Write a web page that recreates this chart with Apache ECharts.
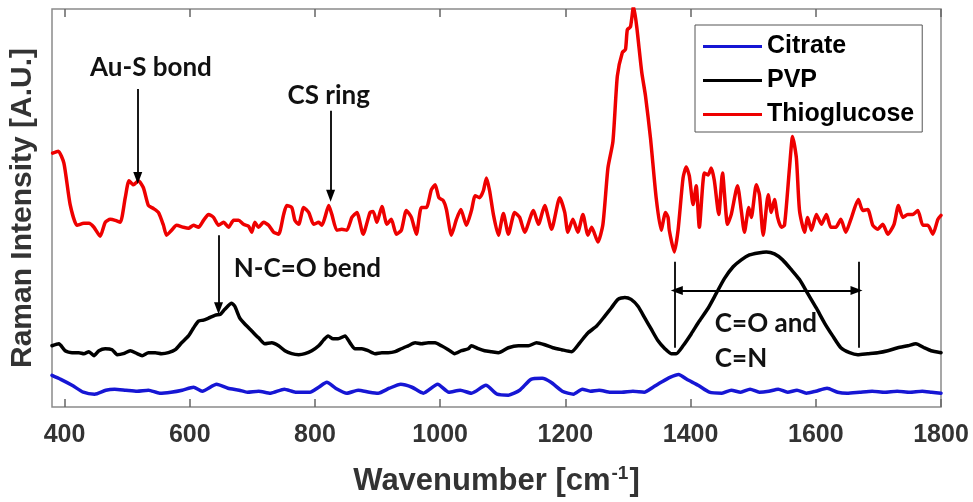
<!DOCTYPE html>
<html>
<head>
<meta charset="utf-8">
<script src="https://cdn.jsdelivr.net/npm/echarts@6/dist/echarts.min.js"></script>
<style>
  html, body { margin: 0; padding: 0; background: #fff; }
  #chart { width: 973px; height: 502px; }
</style>
</head>
<body>
<div id="chart"></div>
<script>
// Raman spectra of gold nanoparticles with three surface coatings (offset traces, arbitrary units)
const wavenumberTicks = [400, 600, 800, 1000, 1200, 1400, 1600, 1800];

// [wavenumber cm^-1, intensity A.U.]
const citrate = [
  [380,32],[394,28],[412,22],[430,15],[448,13],[466,17],[480,18],[498,17],[516,16],[534,17],
  [552,14],[570,15],[588,17],[606,20],[620,16],[643,23],[661,19],[679,17],[692,15],[710,16],
  [729,14],[751,18],[769,15],[792,15],[806,20],[819,25],[833,19],[851,14],[869,17],[887,15],
  [901,14],[919,19],[937,23],[955,20],[973,14],[996,23],[1014,15],[1032,17],[1050,14],[1073,22],
  [1091,13],[1109,12],[1127,17],[1145,28],[1163,29],[1177,25],[1195,16],[1213,13],[1227,18],[1240,16],
  [1254,17],[1272,15],[1290,15],[1308,16],[1326,15],[1340,20],[1353,25],[1367,30],[1381,33],[1394,28],
  [1412,22],[1430,15],[1450,14],[1465,17],[1480,15],[1495,18],[1510,15],[1525,16],[1540,18],[1555,15],
  [1570,17],[1585,14],[1600,16],[1618,19],[1635,15],[1650,14],[1670,15],[1690,16],[1710,15],[1730,16],
  [1750,15],[1770,16],[1785,15],[1800,14]
];

const pvp = [
  [380,62],[391,64],[401,57],[412,55],[423,55],[431,54],[439,56],[447,52],[455,57],[465,59],
  [476,58],[484,53],[494,54],[505,57],[516,54],[524,52],[534,55],[545,55],[555,54],[566,55],
  [577,58],[587,65],[598,72],[606,80],[614,87],[622,88],[630,90],[641,93],[649,94],[656,99],
  [667,105],[672,102],[680,90],[688,84],[699,77],[710,70],[720,64],[731,65],[742,62],[752,57],
  [763,54],[774,53],[784,54],[795,57],[806,62],[814,68],[821,72],[829,69],[837,69],[848,72],
  [856,65],[864,59],[875,59],[885,57],[896,54],[907,55],[917,55],[928,56],[938,59],[949,62],
  [960,65],[970,64],[981,65],[992,65],[1002,62],[1013,58],[1023,54],[1034,57],[1045,59],[1050,62],
  [1061,59],[1071,57],[1082,56],[1093,55],[1109,60],[1125,62],[1141,62],[1154,65],[1167,63],[1180,60],
  [1194,58],[1210,56],[1223,65],[1236,75],[1250,82],[1263,92],[1273,100],[1284,109],[1295,111],[1305,109],
  [1316,102],[1327,90],[1337,79],[1348,67],[1359,59],[1369,54],[1377,54],[1388,62],[1401,74],[1414,87],
  [1428,100],[1441,115],[1454,130],[1468,142],[1481,149],[1494,154],[1508,156],[1521,157],[1534,155],[1547,149],
  [1561,139],[1574,129],[1587,115],[1601,100],[1614,85],[1627,72],[1640,60],[1654,55],[1667,53],[1683,54],
  [1699,55],[1715,57],[1731,60],[1747,62],[1760,64],[1773,60],[1784,57],[1800,55]
];

const thioglucose = [
  [381,257],[390,259],[399,247],[409,205],[420,184],[431,186],[439,186],[447,182],[457,173],[465,187],
  [473,190],[481,189],[489,187],[497,212],[503,229],[510,225],[518,229],[526,222],[534,204],[542,201],
  [550,197],[558,184],[563,174],[571,179],[579,184],[590,182],[598,181],[606,184],[614,182],[622,189],
  [630,195],[638,192],[646,184],[654,187],[662,182],[670,189],[678,189],[686,185],[694,183],[699,177],
  [704,187],[710,182],[718,187],[726,184],[734,177],[742,175],[750,195],[755,204],[763,202],[768,189],
  [774,185],[782,202],[790,197],[798,185],[806,187],[811,184],[816,192],[822,204],[827,195],[835,179],
  [843,180],[851,179],[859,192],[867,197],[877,175],[888,197],[893,198],[899,187],[907,203],[915,185],
  [922,190],[930,175],[938,179],[946,199],[954,192],[962,175],[970,202],[978,202],[986,220],[992,225],
  [998,212],[1005,209],[1010,200],[1018,174],[1026,190],[1033,200],[1042,184],[1050,199],[1056,214],[1063,212],
  [1069,219],[1074,232],[1079,219],[1085,195],[1093,174],[1101,196],[1109,175],[1119,197],[1127,192],[1135,177],
  [1149,199],[1157,185],[1167,204],[1178,180],[1191,212],[1199,197],[1204,177],[1212,190],[1220,177],[1228,195],
  [1236,174],[1242,182],[1252,167],[1260,185],[1268,242],[1276,269],[1283,335],[1291,359],[1296,362],[1299,382],
  [1304,385],[1309,406],[1314,385],[1322,339],[1328,315],[1336,272],[1345,212],[1353,179],[1360,197],[1364,192],
  [1366,179],[1374,157],[1380,179],[1388,232],[1393,243],[1398,234],[1404,205],[1409,224],[1414,182],[1422,237],
  [1428,235],[1433,242],[1438,229],[1445,195],[1451,237],[1459,185],[1465,195],[1475,224],[1481,199],[1486,177],
  [1493,202],[1497,192],[1505,225],[1510,215],[1516,174],[1524,215],[1529,197],[1534,210],[1539,192],[1545,182],
  [1550,184],[1558,242],[1563,274],[1569,252],[1574,199],[1582,177],[1587,192],[1593,179],[1601,195],[1609,185],
  [1617,195],[1624,182],[1632,182],[1640,190],[1648,177],[1656,190],[1668,210],[1675,199],[1683,200],[1691,184],
  [1699,180],[1707,185],[1715,175],[1725,185],[1732,204],[1739,192],[1747,195],[1755,195],[1763,199],[1771,184],
  [1779,184],[1787,175],[1795,190],[1800,194]
];

// Peak-assignment annotations: arrows, range markers and their texts
const arrows = [
  { x: 517, from: 322, to: 232 },   // Au-S bond
  { x: 825, from: 300, to: 214 },   // CS ring
  { x: 646, from: 174, to: 100 }    // N-C=O bend
];
const bandEdges = [1375, 1668];
const bandEdgeRange = [147, 60];
const bandArrow = { y: 118, from: 1378, to: 1665 };
const notes = [
  { text: 'Au-S bond', at: [538, 344], align: 'center' },
  { text: 'CS ring', at: [822, 315], align: 'center' },
  { text: 'N-C=O bend', at: [788, 140], align: 'center' },
  { text: 'C=O and', at: [1438, 84], align: 'left' },
  { text: 'C=N', at: [1438, 49], align: 'left' }
];

const axisFont = 'Liberation Sans, Arial, sans-serif';
const noteFont = 'Lato, Carlito, Calibri, sans-serif';

const chart = echarts.init(document.getElementById('chart'), null, { renderer: 'canvas' });

const markLineData = [];
arrows.forEach(a => {
  markLineData.push([
    { coord: [a.x, a.from], symbol: 'none' },
    { coord: [a.x, a.to], symbol: 'triangle' }
  ]);
});
bandEdges.forEach(x => {
  markLineData.push([
    { coord: [x, bandEdgeRange[0]], symbol: 'none' },
    { coord: [x, bandEdgeRange[1]], symbol: 'none' }
  ]);
});
markLineData.push([
  { coord: [bandArrow.from, bandArrow.y], symbol: 'triangle' },
  { coord: [bandArrow.to, bandArrow.y], symbol: 'triangle' }
]);

const markPointData = notes.map(n => ({
  coord: n.at,
  symbol: 'rect',
  symbolSize: 1,
  itemStyle: { color: 'transparent' },
  label: {
    show: true,
    position: n.align === 'left' ? 'right' : 'inside',
    distance: 0,
    formatter: n.text,
    color: '#111',
    fontFamily: noteFont,
    fontWeight: 'bold',
    fontSize: 26
  }
}));

const lineSeries = (name, data, color, width) => ({
  name,
  type: 'line',
  data,
  showSymbol: false,
  symbol: 'none',
  smooth: 0.2,
  clip: true,
  lineStyle: { color, width, join: 'round', cap: 'round' },
  itemStyle: { color },
  emphasis: { disabled: true },
  z: 3
});

chart.setOption({
  animation: false,
  backgroundColor: '#fff',
  grid: {
    left: 51, top: 9, width: 890, height: 403,
    show: true, borderColor: '#8a8a8a', borderWidth: 1.5, backgroundColor: 'transparent'
  },
  legend: {
    data: ['Citrate', 'PVP', 'Thioglucose'],
    orient: 'vertical',
    left: 695, top: 25,
    padding: [9, 8, 5, 8],
    itemGap: 9,
    itemWidth: 59,
    itemHeight: 3,
    icon: 'rect',
    backgroundColor: '#fff',
    borderColor: '#555',
    borderWidth: 1,
    textStyle: { fontFamily: axisFont, fontWeight: 'bold', fontSize: 25, color: '#000', lineHeight: 25, padding: [0, 0, 0, 0] },
    selectedMode: false
  },
  xAxis: [
    {
      type: 'value', position: 'bottom', min: 380, max: 1800,
      name: '{t|Wavenumber [cm}{s|-1}{t|]}',
      nameLocation: 'middle', nameGap: 57,
      nameTextStyle: {
        rich: {
          t: { fontFamily: axisFont, fontWeight: 'bold', fontSize: 31, color: '#333', lineHeight: 35 },
          s: { fontFamily: axisFont, fontWeight: 'bold', fontSize: 19, color: '#333', verticalAlign: 'top', lineHeight: 35, padding: [0, 1, 14, 1] }
        }
      },
      axisLine: { show: false },
      splitLine: { show: false },
      axisTick: { show: true, inside: true, length: 8, customValues: wavenumberTicks, lineStyle: { color: '#666', width: 1.5 } },
      axisLabel: {
        show: true, customValues: wavenumberTicks, margin: 16,
        formatter: v => String(v),
        fontFamily: axisFont, fontWeight: 'bold', fontSize: 25, color: '#333'
      }
    },
    {
      type: 'value', position: 'top', min: 380, max: 1800,
      axisLine: { show: false },
      splitLine: { show: false },
      axisTick: { show: true, inside: true, length: 8, customValues: wavenumberTicks, lineStyle: { color: '#666', width: 1.5 } },
      axisLabel: { show: false }
    }
  ],
  yAxis: {
    type: 'value', min: 0, max: 403,
    name: 'Raman Intensity [A.U.]',
    nameLocation: 'middle', nameGap: 14,
    nameTextStyle: { fontFamily: axisFont, fontWeight: 'bold', fontSize: 30, color: '#333' },
    axisLine: { show: false },
    axisTick: { show: false },
    axisLabel: { show: false },
    splitLine: { show: false }
  },
  series: [
    lineSeries('Citrate', citrate, '#1616d4', 3.5),
    lineSeries('PVP', pvp, '#000000', 3.5),
    lineSeries('Thioglucose', thioglucose, '#ee0000', 3.5),
    {
      type: 'line',
      data: [],
      silent: true,
      z: 5,
      markLine: {
        silent: true,
        animation: false,
        symbolSize: [9, 12],
        label: { show: false },
        lineStyle: { color: '#000', width: 1.8, type: 'solid' },
        emphasis: { disabled: true },
        data: markLineData
      },
      markPoint: {
        silent: true,
        animation: false,
        data: markPointData
      }
    }
  ]
});
</script>
</body>
</html>
